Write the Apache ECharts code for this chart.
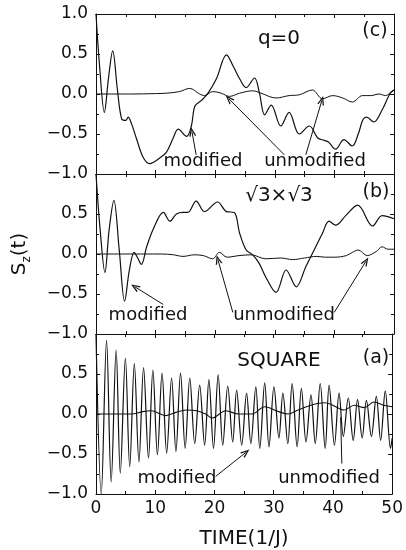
<!DOCTYPE html>
<html>
<head>
<meta charset="utf-8">
<script src="https://cdn.jsdelivr.net/npm/echarts@6/dist/echarts.min.js"></script>
<style>
  html, body { margin: 0; padding: 0; background: #fff; }
  #main { width: 406px; height: 550px; }
</style>
</head>
<body>
<div id="main"></div>
<script>
// x ticks / y ticks
const timeTicks = [0, 10, 20, 30, 40, 50];
const szTicks = [-1.0, -0.5, 0.0, 0.5, 1.0];

// (c) q=0
const cModT = [0, 0.6, 1.4, 2.1, 2.8, 3.6, 4.3, 5.0, 5.4, 6.0, 6.8, 7.9, 9.0, 10.7, 11.8, 12.9, 13.8, 15.2, 16.0, 16.6, 17.7, 18.8, 20.2, 21.9, 23.0, 24.1, 25.2, 26.6, 27.4, 28.3, 29.4, 31.0, 32.4, 34.1, 35.8, 37.2, 38.3, 39.0, 40.2, 41.6, 43.0, 44.0, 44.8, 45.4, 46.6, 48.0, 49.3, 50];
const cModS = [1.0, 0.35, -0.23, 0.2, 0.54, 0.05, -0.31, -0.33, -0.29, -0.38, -0.56, -0.79, -0.87, -0.80, -0.73, -0.56, -0.44, -0.53, -0.40, -0.15, -0.08, 0.01, 0.19, 0.49, 0.35, 0.19, 0.08, 0.20, 0.02, -0.26, -0.14, -0.40, -0.23, -0.50, -0.40, -0.55, -0.58, -0.60, -0.69, -0.57, -0.65, -0.50, -0.32, -0.29, -0.35, -0.20, 0.0, 0.05];
const cUnT = [0, 6, 10, 11.8, 14.0, 15.7, 17.4, 18.2, 19.6, 21.0, 22.4, 24.1, 26.3, 27.7, 30.2, 32.4, 34.1, 36.3, 38.0, 39.7, 41.4, 43.0, 44.7, 46.1, 47.5, 48.6, 49.7, 50];
const cUnS = [0, 0, 0.005, 0.01, 0.03, 0.07, 0.0, -0.02, 0.03, 0.01, -0.03, 0.01, 0.04, 0.01, -0.05, -0.02, -0.01, 0.05, -0.06, -0.02, -0.05, -0.10, -0.02, -0.02, 0.0, -0.02, 0.04, 0.05];

// (b) sqrt3 x sqrt3
const bModT = [0, 0.7, 1.5, 2.2, 3.0, 3.9, 4.8, 5.6, 6.4, 7.0, 7.6, 8.5, 9.6, 11.3, 12.4, 13.5, 14.6, 15.4, 16.8, 18.2, 20.4, 21.9, 23.2, 24.1, 25.2, 26.3, 27.4, 28.5, 30.2, 31.9, 33.6, 35.2, 36.6, 38.0, 39.1, 40.2, 41.9, 43.9, 46.4, 48.0, 50];
const bModS = [1.0, 0.3, -0.23, 0.3, 0.67, 0.05, -0.59, -0.2, 0.02, -0.05, -0.13, 0.09, 0.31, 0.52, 0.41, 0.50, 0.52, 0.52, 0.66, 0.53, 0.65, 0.53, 0.52, 0.26, 0.05, -0.01, -0.12, -0.29, -0.48, -0.20, -0.41, -0.16, 0.05, 0.26, 0.41, 0.36, 0.48, 0.61, 0.35, 0.48, 0.44];
const bUnT = [0, 8, 11, 13, 14.6, 16.5, 18, 19.6, 20.7, 22, 24, 26, 28.5, 31, 33, 35, 37, 38.5, 40, 42, 43, 44, 45.5, 47, 48, 49, 50];
const bUnS = [0, 0, 0, -0.01, -0.03, -0.01, -0.02, -0.06, 0.02, -0.04, -0.02, -0.01, -0.06, -0.05, -0.07, -0.05, -0.03, -0.04, -0.04, -0.02, 0.02, 0.05, -0.02, 0.03, 0.09, 0.06, 0.06];

// (a) SQUARE
const aModT = [0, 0.89, 1.78, 2.56, 3.40, 4.10, 4.96, 5.69, 6.47, 7.25, 8.03, 8.86, 9.60, 10.37, 11.15, 11.93, 12.76, 13.49, 14.27, 15.05, 15.83, 16.67, 17.50, 18.34, 19.06, 19.84, 20.62, 21.40, 22.24, 23.08, 23.74, 24.60, 25.42, 26.14, 26.98, 27.65, 28.48, 29.20, 30.04, 30.88, 31.55, 32.38, 33.11, 33.95, 34.67, 35.45, 36.29, 37.01, 37.85, 38.69, 39.35, 40.25, 41.03, 41.75, 42.59, 43.42, 44.15, 44.93, 45.65, 46.49, 47.32, 48.05, 48.83, 49.72, 50];
const aModS = [1.0, -1.0, 0.92, -0.85, 0.80, -0.74, 0.70, -0.66, 0.63, -0.60, 0.58, -0.55, 0.55, -0.51, 0.51, -0.49, 0.45, -0.47, 0.51, -0.43, 0.45, -0.37, 0.36, -0.39, 0.43, -0.43, 0.49, -0.39, 0.35, -0.35, 0.30, -0.39, 0.26, -0.37, 0.34, -0.43, 0.39, -0.41, 0.34, -0.30, 0.26, -0.37, 0.38, -0.41, 0.32, -0.35, 0.24, -0.37, 0.38, -0.43, 0.36, -0.39, 0.26, -0.28, 0.20, -0.33, 0.18, -0.30, 0.17, -0.28, 0.22, -0.33, 0.29, -0.43, -0.30];
const aUnT = [0, 6, 7.9, 9.3, 11.8, 13.5, 15.2, 17.0, 18.5, 19.6, 21.9, 24.1, 26.3, 28.5, 30.8, 32.4, 34.1, 36.3, 38.6, 39.7, 41.9, 43.6, 45.3, 46.9, 48.6, 50];
const aUnS = [0, 0, 0.03, 0.04, -0.02, 0.02, 0.05, 0.04, 0.0, -0.05, 0.04, 0.0, 0.0, 0.09, 0.03, 0.0, 0.05, 0.11, 0.14, 0.12, 0.05, 0.11, 0.08, 0.15, 0.11, 0.09];

const zip = (t, s) => t.map((x, i) => [x, s[i]]);

let myChart = echarts.init(document.getElementById('main'));

const FONT = 'DejaVu Sans';
const INK = '#111';
const gridTops = [14, 174, 334];
const arrowHead = 'path://M5,0 L10,10 L8,10 L5,3.5 L2,10 L0,10 Z';

const fmt = (hideTop) => (v) => {
  if (hideTop && v === 1) return '';
  return (v < 0 ? '\u2212' : '') + Math.abs(v).toFixed(1);
};

let grids = [], xAxes = [], yAxes = [];
gridTops.forEach((top, g) => {
  grids.push({ left: 96, top: top, width: 298, height: 160, show: false });
  const last = g === 2;
  // bottom x axis
  xAxes.push({
    gridIndex: g, type: 'value', min: 0, max: 50, interval: 10, position: 'bottom',
    axisLine: { show: true, onZero: false, lineStyle: { color: INK, width: 1 } },
    axisTick: { show: true, inside: true, length: 4, lineStyle: { color: INK } },
    minorTick: { show: true, splitNumber: 2, length: 3, lineStyle: { color: INK } },
    splitLine: { show: false },
    axisLabel: { show: last, color: INK, fontSize: 17, fontFamily: FONT, margin: 6,
      customValues: timeTicks },
    name: last ? 'TIME(1/J)' : '',
    nameLocation: 'middle', nameGap: 35,
    nameTextStyle: { color: INK, fontSize: 20, fontFamily: FONT }
  });
  // top x axis
  xAxes.push({
    gridIndex: g, type: 'value', min: 0, max: 50, interval: 10, position: 'top',
    axisLine: { show: true, onZero: false, lineStyle: { color: INK, width: 1 } },
    axisTick: { show: true, inside: true, length: 4, lineStyle: { color: INK } },
    minorTick: { show: true, splitNumber: 2, length: 3, lineStyle: { color: INK } },
    splitLine: { show: false },
    axisLabel: { show: false }
  });
  // left y axis
  yAxes.push({
    gridIndex: g, type: 'value', min: -1, max: 1, interval: 0.5, position: 'left',
    axisLine: { show: true, onZero: false, lineStyle: { color: INK, width: 1 } },
    axisTick: { show: true, inside: true, length: 4, lineStyle: { color: INK } },
    minorTick: { show: true, splitNumber: 2, length: 3, lineStyle: { color: INK } },
    splitLine: { show: false },
    axisLabel: { color: INK, fontSize: 17, fontFamily: FONT, margin: 8, formatter: fmt(g > 0),
      customValues: szTicks },
    name: g === 1 ? '{s|S}{z|z}{s|(t)}' : '',
    nameLocation: 'middle', nameGap: 63, nameRotate: 90,
    nameTextStyle: {
      color: INK, fontFamily: FONT,
      rich: {
        s: { fontSize: 20, fontFamily: FONT, color: INK, lineHeight: 26, verticalAlign: 'middle' },
        z: { fontSize: 12, fontFamily: FONT, color: INK, lineHeight: 26, verticalAlign: 'bottom' }
      }
    }
  });
  // right y axis
  yAxes.push({
    gridIndex: g, type: 'value', min: -1, max: 1, interval: 0.5, position: 'right',
    axisLine: { show: true, onZero: false, lineStyle: { color: INK, width: 1 } },
    axisTick: { show: true, inside: true, length: 4, lineStyle: { color: INK } },
    minorTick: { show: true, splitNumber: 2, length: 3, lineStyle: { color: INK } },
    splitLine: { show: false },
    axisLabel: { show: false }
  });
});

const arrow = (p, q, head) => [
  { coord: p, symbol: 'none' },
  { coord: q, symbol: head === false ? 'none' : arrowHead, symbolSize: [7, 9] }
];
const markArrows = (list) => ({
  silent: true,
  animation: false,
  symbol: ['none', arrowHead],
  symbolSize: [7, 9],
  label: { show: false },
  lineStyle: { color: INK, width: 1, type: 'solid' },
  data: list
});

const lineSeries = (name, g, data, width, marks) => {
  let s = {
    name: name, type: 'line', xAxisIndex: g * 2, yAxisIndex: g * 2,
    data: data, smooth: 0.35, showSymbol: false, symbol: 'none',
    lineStyle: { color: INK, width: width }, clip: true, z: 3
  };
  if (marks) s.markLine = markArrows(marks);
  return s;
};

const txt = (text, x, y, size, align) => ({
  type: 'text', x: x, y: y, z: 10,
  style: { text: text, fill: INK, font: (size || 18) + 'px "' + FONT + '"',
    align: align || 'center', verticalAlign: 'middle' }
});

let option = {
  backgroundColor: '#fff',
  animation: false,
  grid: grids,
  xAxis: xAxes,
  yAxis: yAxes,
  series: [
    lineSeries('c modified', 0, zip(cModT, cModS), 1.2, [
      arrow([16.8, -0.76], [16.1, -0.47]),
      arrow([31.6, -0.76], [22.3, -0.06]),
      arrow([35.2, -0.76], [37.9, -0.08])
    ]),
    lineSeries('c unmodified', 0, zip(cUnT, cUnS), 1),
    lineSeries('b modified', 1, zip(bModT, bModS), 1.2, [
      arrow([11.26, -0.63], [6.52, -0.41]),
      arrow([22.96, -0.73], [20.45, -0.07]),
      arrow([39.97, -0.73], [45.3, -0.09])
    ]),
    lineSeries('b unmodified', 1, zip(bUnT, bUnS), 1),
    lineSeries('a modified', 2, zip(aModT, aModS), 1.2, [
      arrow([20.2, -0.78], [25.3, -0.48]),
      arrow([41.5, -0.62], [41.3, -0.04], false)
    ]),
    lineSeries('a unmodified', 2, zip(aUnT, aUnS), 1.1)
  ],
  graphic: [
    txt('q=0', 279, 39, 20),
    txt('(c)', 375, 31, 19),
    txt('modified', 203, 161),
    txt('unmodified', 315, 161),
    txt('\u221A3\u00D7\u221A3', 279, 196, 20),
    txt('(b)', 376, 192, 19),
    txt('modified', 148, 315),
    txt('unmodified', 284, 315),
    txt('SQUARE', 279, 361, 20),
    txt('(a)', 376, 358, 19),
    txt('modified', 177, 478),
    txt('unmodified', 329, 478)
  ]
};

myChart.setOption(option);
</script>
</body>
</html>
